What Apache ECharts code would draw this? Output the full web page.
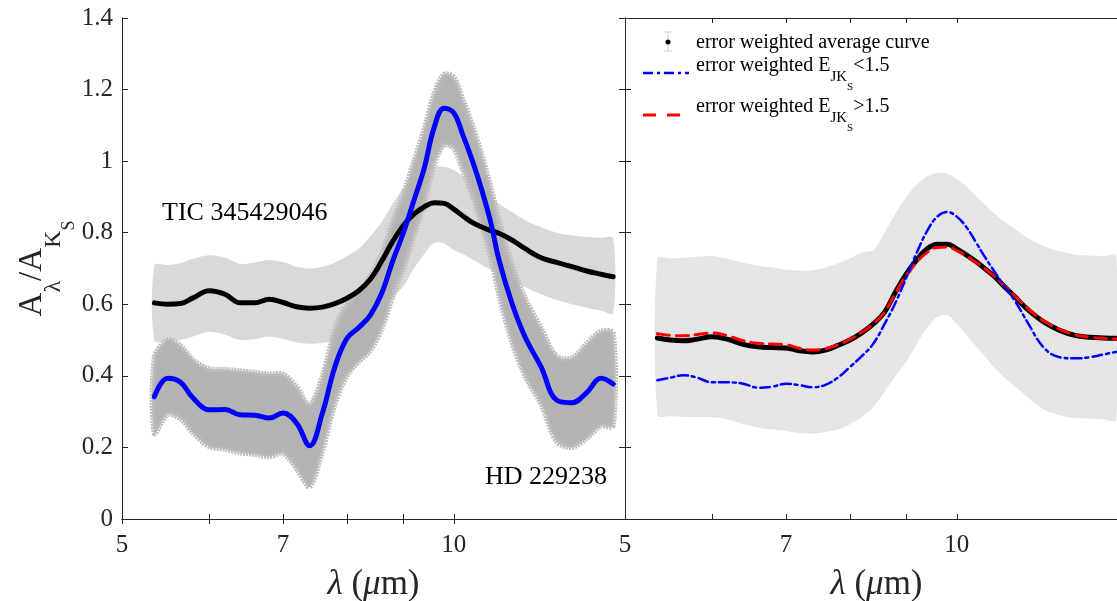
<!DOCTYPE html>
<html>
<head>
<meta charset="utf-8">
<script src="https://cdn.jsdelivr.net/npm/echarts@6/dist/echarts.min.js"></script>
<style>
html,body{margin:0;padding:0;background:#fff;}
#main{width:1117px;height:601px;}
</style>
</head>
<body>
<div id="main"></div>
<script>
// wavelength grid (micron), shared by every curve
var lam = [5.35, 5.5, 5.65, 5.8, 6.0, 6.2, 6.4, 6.6, 6.8, 7.0, 7.2, 7.4, 7.6, 7.8, 8.0, 8.2, 8.4, 8.6, 8.8, 9.0,
           9.2, 9.4, 9.6, 9.8, 10.0, 10.2, 10.4, 10.6, 10.8, 11.0, 11.3, 11.6, 12.0, 12.4, 12.8, 13.2, 13.6, 13.95];

// left panel - TIC 345429046 (black) and its error range
var ticVal = [0.604, 0.600, 0.602, 0.618, 0.638, 0.628, 0.604, 0.604, 0.614, 0.605, 0.593, 0.589, 0.592, 0.602, 0.617, 0.638, 0.670, 0.720, 0.775, 0.820,
              0.852, 0.872, 0.884, 0.882, 0.866, 0.846, 0.828, 0.816, 0.806, 0.798, 0.779, 0.756, 0.730, 0.717, 0.705, 0.693, 0.684, 0.677];
var ticHi  = [0.709, 0.710, 0.715, 0.727, 0.737, 0.730, 0.713, 0.717, 0.724, 0.718, 0.705, 0.700, 0.705, 0.716, 0.735, 0.755, 0.790, 0.830, 0.880, 0.925,
              0.958, 0.977, 0.985, 0.984, 0.975, 0.958, 0.940, 0.920, 0.900, 0.880, 0.857, 0.835, 0.815, 0.800, 0.792, 0.788, 0.786, 0.784];
var ticLo  = [0.498, 0.497, 0.500, 0.510, 0.523, 0.515, 0.500, 0.503, 0.510, 0.503, 0.493, 0.490, 0.492, 0.498, 0.510, 0.525, 0.550, 0.585, 0.620, 0.650,
              0.700, 0.740, 0.772, 0.770, 0.752, 0.740, 0.725, 0.710, 0.697, 0.685, 0.665, 0.648, 0.628, 0.612, 0.600, 0.590, 0.582, 0.575];

// left panel - HD 229238 (blue) and its error range
var hdVal = [0.342, 0.393, 0.382, 0.338, 0.305, 0.306, 0.291, 0.290, 0.282, 0.296, 0.268, 0.205, 0.296, 0.425, 0.505, 0.535, 0.570, 0.630, 0.720, 0.800,
             0.890, 0.980, 1.095, 1.148, 1.135, 1.070, 1.000, 0.920, 0.830, 0.720, 0.600, 0.510, 0.425, 0.332, 0.325, 0.353, 0.393, 0.377];
var hdHi  = [0.453, 0.500, 0.485, 0.445, 0.420, 0.418, 0.414, 0.410, 0.405, 0.405, 0.370, 0.320, 0.400, 0.530, 0.600, 0.635, 0.680, 0.740, 0.830, 0.910,
             1.000, 1.090, 1.190, 1.243, 1.235, 1.170, 1.100, 1.020, 0.930, 0.830, 0.710, 0.620, 0.535, 0.455, 0.450, 0.490, 0.525, 0.520];
var hdLo  = [0.239, 0.292, 0.280, 0.240, 0.202, 0.195, 0.185, 0.180, 0.174, 0.183, 0.140, 0.090, 0.190, 0.320, 0.400, 0.440, 0.470, 0.530, 0.620, 0.700,
             0.790, 0.880, 0.990, 1.045, 1.035, 0.970, 0.900, 0.820, 0.730, 0.620, 0.490, 0.400, 0.320, 0.215, 0.200, 0.225, 0.260, 0.260];

// right panel - error weighted average curve and its error range
var avgVal = [0.506, 0.500, 0.498, 0.502, 0.509, 0.502, 0.488, 0.481, 0.479, 0.478, 0.470, 0.467, 0.472, 0.485, 0.500, 0.520, 0.545, 0.578, 0.635, 0.685,
              0.725, 0.755, 0.768, 0.768, 0.755, 0.738, 0.720, 0.700, 0.680, 0.655, 0.620, 0.585, 0.550, 0.527, 0.513, 0.508, 0.506, 0.505];
var avgHi  = [0.728, 0.728, 0.730, 0.733, 0.735, 0.727, 0.716, 0.708, 0.703, 0.697, 0.694, 0.695, 0.703, 0.714, 0.728, 0.745, 0.752, 0.800, 0.855, 0.900,
              0.935, 0.958, 0.967, 0.965, 0.950, 0.930, 0.905, 0.880, 0.855, 0.835, 0.810, 0.785, 0.762, 0.748, 0.739, 0.736, 0.735, 0.735];
var avgLo  = [0.290, 0.288, 0.285, 0.285, 0.284, 0.278, 0.265, 0.256, 0.250, 0.246, 0.240, 0.239, 0.243, 0.250, 0.265, 0.285, 0.314, 0.355, 0.400, 0.440,
              0.490, 0.535, 0.565, 0.570, 0.545, 0.515, 0.485, 0.455, 0.425, 0.400, 0.370, 0.340, 0.305, 0.290, 0.282, 0.280, 0.278, 0.277];

// right panel - E(J-Ks) < 1.5 (blue dash-dot) and > 1.5 (red dashed)
var lowEVal  = [0.388, 0.395, 0.402, 0.396, 0.382, 0.382, 0.378, 0.367, 0.370, 0.378, 0.374, 0.368, 0.375, 0.395, 0.425, 0.455, 0.490, 0.545, 0.605, 0.675,
                0.745, 0.805, 0.845, 0.858, 0.845, 0.816, 0.775, 0.733, 0.695, 0.658, 0.608, 0.548, 0.478, 0.452, 0.449, 0.452, 0.460, 0.467];
var highEVal = [0.518, 0.513, 0.512, 0.515, 0.520, 0.512, 0.498, 0.491, 0.489, 0.487, 0.477, 0.472, 0.476, 0.487, 0.502, 0.522, 0.545, 0.578, 0.632, 0.680,
                0.718, 0.745, 0.759, 0.760, 0.750, 0.735, 0.718, 0.700, 0.680, 0.657, 0.622, 0.588, 0.553, 0.530, 0.515, 0.508, 0.505, 0.503];

// axis ticks
var xTicks = [5, 6, 7, 8, 9, 10];
var xTickLabels = [5, 7, 10];

var FONT = 'Liberation Serif';
var AXC = '#262626';

function pts(ys) {
	return lam.map(function (x, i) { return [x, ys[i]]; });
}

function xAx(grid, pos, withLabel) {
	return {
		type: 'log', gridIndex: grid, position: pos, min: 5, max: 14.3, logBase: 10,
		axisLine: { show: true, lineStyle: { color: AXC, width: 1 } },
		axisTick: { show: true, inside: true, length: 5, customValues: xTicks, lineStyle: { color: AXC } },
		axisLabel: { show: withLabel, customValues: xTickLabels, margin: 14, fontFamily: FONT, fontSize: 25, color: AXC },
		splitLine: { show: false },
		name: withLabel ? '{i|λ} ({i|μ}m)' : '', nameLocation: 'middle', nameGap: 48,
		nameTextStyle: { fontFamily: FONT, fontSize: 35, color: AXC,
			rich: { i: { fontFamily: FONT, fontSize: 35, fontStyle: 'italic', color: AXC } } }
	};
}
function yAx(grid, pos, withLabel) {
	return {
		type: 'value', gridIndex: grid, position: pos, min: 0, max: 1.4, interval: 0.2,
		axisLine: { show: true, lineStyle: { color: AXC, width: 1 } },
		axisTick: { show: true, inside: true, length: 6, lineStyle: { color: AXC } },
		axisLabel: { show: withLabel, margin: 9, fontFamily: FONT, fontSize: 25, color: AXC },
		splitLine: { show: false }
	};
}

// error range drawn as one filled shape between the lower and upper curves
function band(x, y, hi, lo, color, edge) {
	return {
		type: 'custom', xAxisIndex: x, yAxisIndex: y, silent: true, clip: true,
		data: lam.map(function (l, i) { return [l, lo[i], hi[i]]; }),
		encode: { x: 0, y: [1, 2] },
		renderItem: function (params, api) {
			if (params.dataIndex !== 0) return null;
			var p = [], i;
			for (i = 0; i < lam.length; i++) p.push(api.coord([lam[i], hi[i]]));
			for (i = lam.length - 1; i >= 0; i--) p.push(api.coord([lam[i], lo[i]]));
			return {
				type: 'polygon',
				shape: { points: p, smooth: 0.3 },
				style: edge ? { fill: color, stroke: edge, lineWidth: 5, lineDash: [2, 1] } : { fill: color }
			};
		}
	};
}
function curve(name, x, y, vals, color, width, dash) {
	return {
		name: name, type: 'line', xAxisIndex: x, yAxisIndex: y, data: pts(vals),
		symbol: 'none', smooth: 0.4, silent: true,
		lineStyle: { color: color, width: width, type: dash || 'solid', cap: 'round', join: 'round' }
	};
}

var series = [
	band(0, 0, ticHi, ticLo, '#d9d9d9'),
	curve('TIC 345429046', 0, 0, ticVal, '#000000', 5),
	band(0, 0, hdHi, hdLo, '#b3b3b3', '#bdbdbd'),
	curve('HD 229238', 0, 0, hdVal, '#0000ff', 5),
	band(2, 2, avgHi, avgLo, '#e5e5e5'),
	curve('error weighted average curve', 2, 2, avgVal, '#000000', 5),
	curve('E>1.5', 2, 2, highEVal, '#ff0000', 3, [12, 7]),
	curve('E<1.5', 2, 2, lowEVal, '#0000ff', 2.5, [10, 4, 3, 4])
];

var yLeft = yAx(0, 'left', true);
yLeft.name = '{m|A}{s|λ}{m|/A}{s|K}{ss|S}';
yLeft.nameLocation = 'middle';
yLeft.nameRotate = 90;
yLeft.nameGap = 60;
yLeft.nameTextStyle = {
	fontFamily: FONT, color: AXC,
	rich: {
		m: { fontFamily: FONT, fontSize: 33, lineHeight: 33, verticalAlign: 'top', color: AXC },
		s: { fontFamily: FONT, fontSize: 24, lineHeight: 24, verticalAlign: 'top', padding: [26, 0, 0, 0], color: AXC },
		ss: { fontFamily: FONT, fontSize: 18, lineHeight: 18, verticalAlign: 'top', padding: [44, 0, 0, 0], color: AXC }
	}
};

var legRich = {
	t: { fontFamily: FONT, fontSize: 20, lineHeight: 20, verticalAlign: 'top', fill: '#000' },
	s1: { fontFamily: FONT, fontSize: 15, lineHeight: 15, verticalAlign: 'top', padding: [14, 0, 0, 0], fill: '#000' },
	s2: { fontFamily: FONT, fontSize: 11, lineHeight: 11, verticalAlign: 'top', padding: [26, 0, 0, 0], fill: '#000' }
};

var option = {
	backgroundColor: '#ffffff',
	animation: false,
	grid: [
		{ left: 122, top: 18, width: 503, height: 501, outerBoundsMode: 'none', containLabel: false },
		{ left: 625, top: 18, width: 503, height: 501, outerBoundsMode: 'none', containLabel: false }
	],
	xAxis: [xAx(0, 'bottom', true), xAx(0, 'top', false), xAx(1, 'bottom', true), xAx(1, 'top', false)],
	yAxis: [yLeft, yAx(0, 'right', false), yAx(1, 'left', false)],
	series: series,
	graphic: [
		{ type: 'text', left: 162, top: 200, silent: true,
		  style: { text: 'TIC 345429046', font: '26px "Liberation Serif"', fill: '#000' } },
		{ type: 'text', left: 485, top: 464, silent: true,
		  style: { text: 'HD 229238', font: '26px "Liberation Serif"', fill: '#000' } },
		// legend: error bar symbol
		{ type: 'line', silent: true, shape: { x1: 668, y1: 32, x2: 668, y2: 51 }, style: { stroke: '#cfcfcf', lineWidth: 1 } },
		{ type: 'line', silent: true, shape: { x1: 664, y1: 32, x2: 672, y2: 32 }, style: { stroke: '#cfcfcf', lineWidth: 1 } },
		{ type: 'line', silent: true, shape: { x1: 664, y1: 51, x2: 672, y2: 51 }, style: { stroke: '#cfcfcf', lineWidth: 1 } },
		{ type: 'circle', silent: true, shape: { cx: 668, cy: 42, r: 2.5 }, style: { fill: '#000' } },
		{ type: 'text', silent: true, x: 696, y: 33, style: { text: 'error weighted average curve', font: '20px "Liberation Serif"', fill: '#000', verticalAlign: 'top' } },
		// legend: E < 1.5
		{ type: 'line', silent: true, shape: { x1: 643, y1: 73, x2: 689, y2: 73 }, style: { stroke: '#0000ff', lineWidth: 2.5, lineDash: [10, 4, 3, 4] } },
		{ type: 'text', silent: true, x: 696, y: 56, style: { text: '{t|error weighted E}{s1|JK}{s2|S}{t|<1.5}', rich: legRich, verticalAlign: 'top' } },
		// legend: E > 1.5
		{ type: 'line', silent: true, shape: { x1: 643, y1: 115, x2: 680, y2: 115 }, style: { stroke: '#ff0000', lineWidth: 3, lineDash: [13, 11] } },
		{ type: 'text', silent: true, x: 696, y: 97, style: { text: '{t|error weighted E}{s1|JK}{s2|S}{t|>1.5}', rich: legRich, verticalAlign: 'top' } }
	]
};

var chart = echarts.init(document.getElementById('main'));
chart.setOption(option);
</script>
</body>
</html>
